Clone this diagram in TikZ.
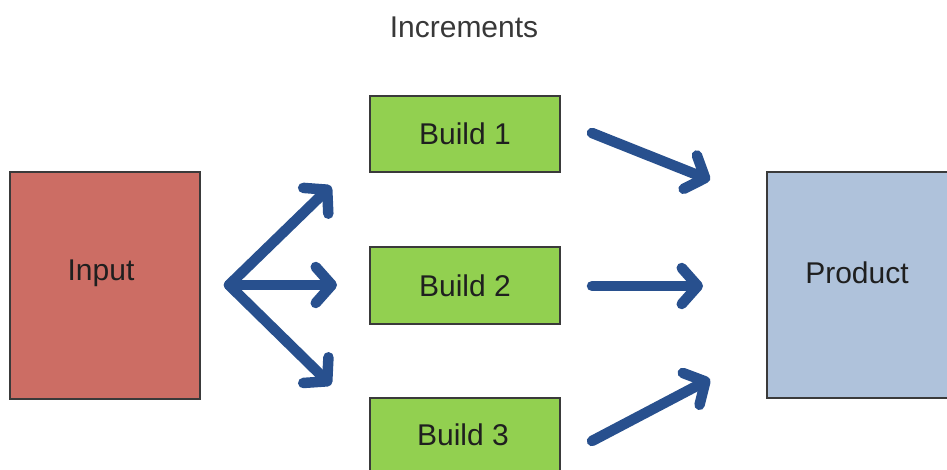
\documentclass[tikz,border=0pt]{standalone}
\usepackage{fontspec}
\setmainfont{Liberation Sans}
\usetikzlibrary{arrows.meta}
\definecolor{inred}{HTML}{CC6D64}
\definecolor{bgreen}{HTML}{92D050}
\definecolor{pblue}{HTML}{AFC2DB}
\definecolor{arrblue}{HTML}{28508E}
\definecolor{edge}{HTML}{3A3A3A}
\begin{document}
\begin{tikzpicture}[x=1pt,y=-1pt,
  box/.style={draw=edge,line width=1.5pt,inner sep=0pt,text=black!90},
  lbl/.style={font=\fontsize{30}{34}\selectfont,text=black!88},
  flow/.style={draw=arrblue,line width=10.5pt,line cap=round,
    -{Straight Barb[length=16pt,width=36pt,round]}}]
\useasboundingbox (0,0) rectangle (947,470);
\node[lbl,text=black!78] (title) at (464,27) {Increments};
\node[box,fill=inred,minimum width=190pt,minimum height=227pt] (input) at (105,285.5) {};
\node[box,fill=pblue,minimum width=190pt,minimum height=226pt] (product) at (862,285) {};
\node[lbl] (inlbl) at (101,273) {Input};
\node[lbl] (prlbl) at (857,273) {Product};
\node[box,lbl,fill=bgreen,minimum width=190pt,minimum height=76pt] (b1) at (465,134) {Build 1};
\node[box,lbl,fill=bgreen,minimum width=190pt,minimum height=77pt] (b2) at (465,285.5) {Build 2};
\node[box,fill=bgreen,minimum width=190pt,minimum height=76pt] (b3) at (465,436) {};
\node[lbl] (b3lbl) at (463,435) {Build 3};
\coordinate (fan) at (229,285);
\coordinate (f1) at (331,186);
\coordinate (f2) at (337,285);
\coordinate (f3) at (331,385);
\coordinate (s1) at (592,133);
\coordinate (t1) at (710,180);
\coordinate (s2) at (592,286);
\coordinate (t2) at (703,286);
\coordinate (s3) at (592,441);
\coordinate (t3) at (710,379);
\draw[flow] (fan) -- (f1);
\draw[flow] (fan) -- (f2);
\draw[flow] (fan) -- (f3);
\draw[flow] (s1) -- (t1);
\draw[flow] (s2) -- (t2);
\draw[flow] (s3) -- (t3);
\end{tikzpicture}
\end{document}
